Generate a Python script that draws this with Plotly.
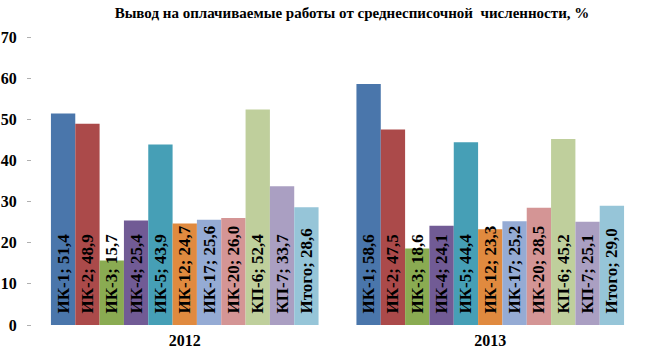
import plotly.graph_objects as go

years = ["2012", "2013"]
names = ["ИК-1", "ИК-2", "ИК-3", "ИК-4", "ИК-5", "ИК-12", "ИК-17", "ИК-20", "КП-6", "КП-7", "Итого"]
values_2012 = [51.4, 48.9, 15.7, 25.4, 43.9, 24.7, 25.6, 26.0, 52.4, 33.7, 28.6]
values_2013 = [58.6, 47.5, 18.6, 24.1, 44.4, 23.3, 25.2, 28.5, 45.2, 25.1, 29.0]
colors = ["#4a76ab", "#ab4a4a", "#8aab52", "#715b95", "#469fb6", "#e08a3f",
          "#95abd4", "#d49595", "#bfcf9c", "#aa9fc2", "#96c5d8"]
title = "Вывод на оплачиваемые работы от среднесписочной  численности, %"

FONT = "Liberation Serif"

fig = go.Figure()
for i, name in enumerate(names):
    vals = [values_2012[i], values_2013[i]]
    texts = [f"<b>\u00a0\u00a0{name}; {('%.1f' % v).replace('.', ',')}</b>" for v in vals]
    fig.add_trace(go.Bar(
        x=years, y=vals, name=name,
        marker=dict(color=colors[i], line=dict(width=0)),
        text=texts, textposition="inside", insidetextanchor="start",
        textangle=-90, constraintext="none",
        textfont=dict(family=FONT, size=17, color="black"),
        cliponaxis=False,
    ))

fig.update_layout(
    width=647, height=352,
    margin=dict(l=32, r=4, t=37, b=27),
    paper_bgcolor="white", plot_bgcolor="white",
    barmode="group", bargap=0.124, bargroupgap=0,
    showlegend=False, hovermode=False,
    uniformtext=dict(mode=False),
    title=dict(text="<b>" + title + "</b>", x=0.544, xref="container", xanchor="center",
               y=0.965, yref="container", yanchor="middle",
               font=dict(family=FONT, size=15, color="black")),
    xaxis=dict(showline=False, showgrid=False, zeroline=False, ticks="",
               ticklabelstandoff=4, automargin=False,
               tickfont=dict(family=FONT, size=16, color="black"),
               tickprefix="<b>", ticksuffix="</b>"),
    yaxis=dict(range=[0, 70], dtick=10, showgrid=False, zeroline=False, showline=False,
               ticks="outside", ticklen=4, tickcolor="#b0b0b0", tickwidth=1,
               ticklabelstandoff=7, automargin=False,
               tickfont=dict(family=FONT, size=16, color="black"),
               tickprefix="<b>", ticksuffix="</b>"),
)

fig.write_html("out.html")
